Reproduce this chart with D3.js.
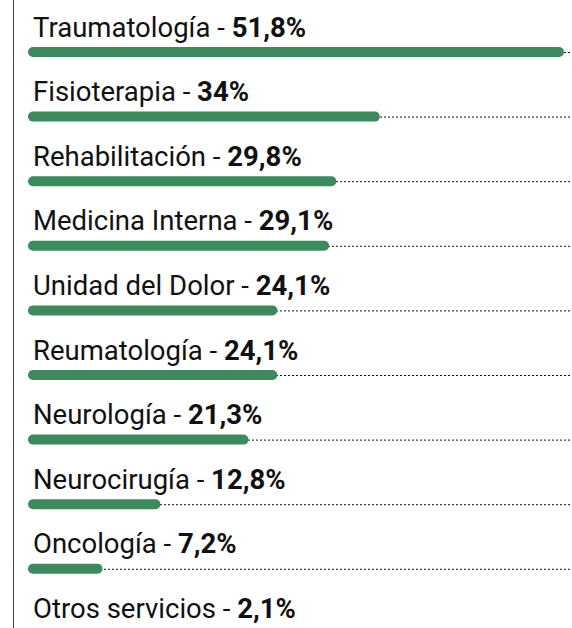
<!DOCTYPE html>
<html>
<head>
<meta charset="utf-8">
<script src="https://cdn.jsdelivr.net/npm/d3@7"></script>
<style>
  html, body { margin: 0; padding: 0; background: #fff; }
  svg { display: block; }
  text { font-family: 'Roboto', sans-serif; fill: #111; }
</style>
</head>
<body>
<div id="chart"></div>
<script>
const categories = [
  'Traumatología', 'Fisioterapia', 'Rehabilitación', 'Medicina Interna',
  'Unidad del Dolor', 'Reumatología', 'Neurología', 'Neurocirugía',
  'Oncología', 'Otros servicios'
]
const values = [51.8, 34, 29.8, 29.1, 24.1, 24.1, 21.3, 12.8, 7.2, 2.1]

const width = 572
const height = 628
const margin = { left: 28, right: 8, top: 52 }
const rowStep = 64.6
const barH = 10
const green = '#3e8a5f'

const data = categories.map((name, i) => ({ name, value: values[i] }))

const svg = d3.select('#chart')
  .append('svg')
  .attr('width', width)
  .attr('height', height)

const x = d3.scaleLinear()
  .domain([0, d3.max(values)])
  .range([margin.left, width - margin.right])

const y = d3.scalePoint()
  .domain(categories)
  .range([margin.top, margin.top + rowStep * (categories.length - 1)])

const fmt = v => String(v).replace('.', ',') + '%'

// left rule
svg.append('line')
  .attr('x1', 13.5).attr('x2', 13.5)
  .attr('y1', 0).attr('y2', height)
  .attr('stroke', '#444')
  .attr('stroke-width', 1)

const rows = svg.append('g').attr('class', 'rows')
  .selectAll('g')
  .data(data)
  .join('g')
  .attr('transform', d => `translate(0,${y(d.name)})`)

// dotted guide
rows.append('line')
  .attr('x1', margin.left).attr('x2', width)
  .attr('y1', 0.5).attr('y2', 0.5)
  .attr('stroke', '#111')
  .attr('stroke-width', 1)
  .attr('stroke-dasharray', '2,2')

// bar
rows.append('rect')
  .attr('x', margin.left)
  .attr('y', -barH / 2)
  .attr('width', d => x(d.value) - margin.left)
  .attr('height', barH)
  .attr('rx', barH / 2)
  .attr('fill', green)

// label
const label = rows.append('text')
  .attr('x', 33)
  .attr('y', -15.5)
  .attr('font-size', 27.5)

label.append('tspan').text(d => d.name + ' - ')
label.append('tspan').attr('font-weight', 'bold').text(d => fmt(d.value))
</script>
</body>
</html>
